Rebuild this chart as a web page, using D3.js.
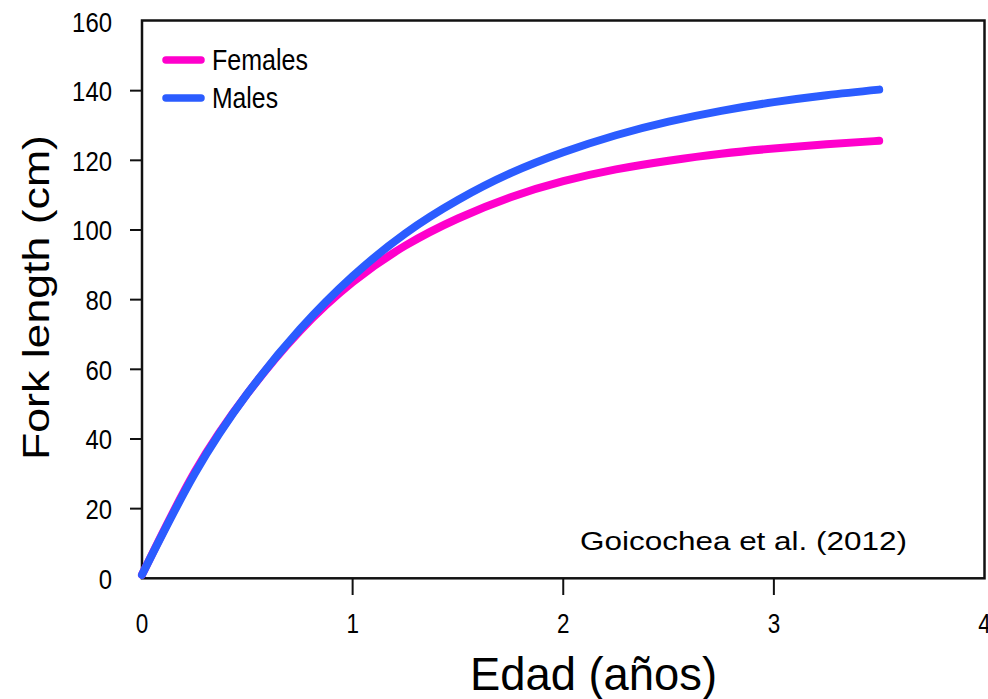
<!DOCTYPE html>
<html>
<head>
<meta charset="utf-8">
<script src="https://cdn.jsdelivr.net/npm/d3@7/dist/d3.min.js"></script>
<style>
  html, body { margin: 0; padding: 0; background: #fff; }
  svg { display: block; }
  text { font-family: "Liberation Sans", Arial, Helvetica, sans-serif; fill: #000; }
</style>
</head>
<body>
<svg id="chart" width="988" height="699"></svg>
<script>
// Age (years) at which the growth curves are sampled
const ages = [0, 0.25, 0.5, 0.75, 1, 1.25, 1.5, 1.75, 2, 2.25, 2.5, 2.75, 3, 3.25, 3.5];

// Fork length (cm) per age
const females = [1, 30.5, 53, 71, 85, 95.5, 103.3, 109.4, 114.0, 117.4, 119.9, 121.9, 123.4, 124.6, 125.6];
const males   = [1, 30, 53, 71.5, 86.7, 99, 108.6, 116.3, 122.3, 127.2, 131.1, 134.2, 136.7, 138.7, 140.3];

const seriesNames = ["Females", "Males"];
const seriesColors = ["#ff00cc", "#2b5cff"];

const xTicks = [0, 1, 2, 3, 4];
const yTicks = [0, 20, 40, 60, 80, 100, 120, 140, 160];

const xTitle = "Edad (años)";
const yTitle = "Fork length (cm)";
const note = "Goicochea et al. (2012)";

const svg = d3.select("#chart");
const plotLeft = 142, plotRight = 984.5, plotTop = 21, plotBottom = 578.3;

const x = d3.scaleLinear().domain([0, 4]).range([plotLeft, plotRight]);
const y = d3.scaleLinear().domain([0, 160]).range([plotBottom, plotTop]);

svg.append("rect").attr("width", 988).attr("height", 699).attr("fill", "#fff");

// Plot frame
svg.append("rect")
  .attr("x", plotLeft).attr("y", plotTop - 0.5)
  .attr("width", plotRight - plotLeft).attr("height", plotBottom - plotTop + 0.5)
  .attr("fill", "none").attr("stroke", "#111").attr("stroke-width", 2.5);

// Y axis ticks and labels
const yAxis = svg.append("g");
yAxis.selectAll("line").data(yTicks.filter(d => d > 0 && d < 160)).join("line")
  .attr("x1", 130).attr("x2", plotLeft)
  .attr("y1", d => y(d)).attr("y2", d => y(d))
  .attr("stroke", "#111").attr("stroke-width", 2);
yAxis.selectAll("text").data(yTicks).join("text")
  .attr("x", 112).attr("y", d => y(d) + 10.5)
  .attr("text-anchor", "end")
  .attr("font-size", 28)
  .attr("textLength", d => String(d).length * 13.3)
  .attr("lengthAdjust", "spacingAndGlyphs")
  .text(d => d);

// X axis ticks and labels
const xAxis = svg.append("g");
xAxis.selectAll("line").data(xTicks.filter(d => d > 0 && d < 4)).join("line")
  .attr("x1", d => x(d)).attr("x2", d => x(d))
  .attr("y1", plotBottom).attr("y2", 595)
  .attr("stroke", "#111").attr("stroke-width", 2);
xAxis.selectAll("text").data(xTicks).join("text")
  .attr("x", d => x(d)).attr("y", 633)
  .attr("text-anchor", "middle")
  .attr("font-size", 28)
  .attr("textLength", d => String(d).length * 12.5)
  .attr("lengthAdjust", "spacingAndGlyphs")
  .text(d => d);

// Growth curves
const line = d3.line()
  .x(d => x(d[0]))
  .y(d => y(d[1]))
  .curve(d3.curveNatural);

[females, males].forEach((vals, i) => {
  svg.append("path")
    .datum(ages.map((a, j) => [a, vals[j]]))
    .attr("d", line)
    .attr("fill", "none")
    .attr("stroke", seriesColors[i])
    .attr("stroke-width", 8)
    .attr("stroke-linecap", "round")
    .attr("stroke-linejoin", "round");
});

// Legend
const legendY = [60, 98];
const legendTextW = [96, 66];
seriesNames.forEach((name, i) => {
  svg.append("line")
    .attr("x1", 166).attr("x2", 201)
    .attr("y1", legendY[i]).attr("y2", legendY[i])
    .attr("stroke", seriesColors[i]).attr("stroke-width", 7.5)
    .attr("stroke-linecap", "round");
  svg.append("text")
    .attr("x", 212).attr("y", legendY[i] + 9.5)
    .attr("font-size", 29)
    .attr("textLength", legendTextW[i])
    .attr("lengthAdjust", "spacingAndGlyphs")
    .text(name);
});

// Source note
svg.append("text")
  .attr("x", 580).attr("y", 550)
  .attr("font-size", 25.5)
  .attr("textLength", 327)
  .attr("lengthAdjust", "spacingAndGlyphs")
  .text(note);

// Axis titles
svg.append("text")
  .attr("x", 470).attr("y", 690)
  .attr("font-size", 46)
  .attr("textLength", 247)
  .attr("lengthAdjust", "spacingAndGlyphs")
  .text(xTitle);

svg.append("text")
  .attr("transform", "translate(48.5,460) rotate(-90)")
  .attr("font-size", 37)
  .attr("textLength", 325)
  .attr("lengthAdjust", "spacingAndGlyphs")
  .text(yTitle);
</script>
</body>
</html>
